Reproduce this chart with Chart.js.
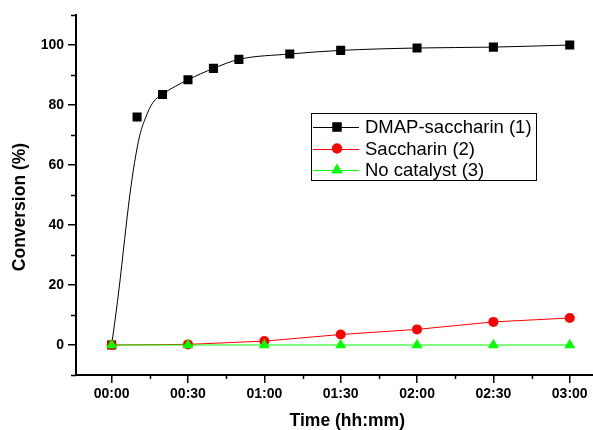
<!DOCTYPE html>
<html lang="en">
<head>
    <meta charset="UTF-8">
    <title>Conversion vs time</title>
    <script src="https://cdn.jsdelivr.net/npm/chart.js@4.4.1/dist/chart.umd.min.js"></script>
    <style>
        body { margin: 0; overflow: hidden; background: #fff; }
        #wrap { width: 625px; height: 430px; }
    </style>
</head>
<body>
    <div id="wrap"><canvas id="myChart" width="625" height="430"></canvas></div>

<script>
    // time in minutes
    const dmapTimes = [0, 10, 20, 30, 40, 50, 70, 90, 120, 150, 180]
    const dmapValues = [0, 76, 83.5, 88.4, 92.2, 95.2, 97, 98.2, 99, 99.3, 100]

    // fitted curve drawn through the DMAP points
    const fitTimes = [0, 0.5, 2.9, 5.1, 7.1, 9, 11, 13.6, 16.2, 20, 30, 40, 50, 70, 90, 120, 150, 180]
    const fitValues = [0, 3, 18.6, 35.2, 49.7, 60.8, 69.7, 76.3, 80.8, 83.6, 88.4, 92.2, 95.2, 97, 98.2, 99, 99.3, 100]

    const sacchTimes = [0, 30, 60, 90, 120, 150, 180]
    const sacchValues = [0, 0.2, 1.3, 3.5, 5.2, 7.7, 9.0]

    const noCatTimes = [0, 30, 60, 90, 120, 150, 180]
    const noCatValues = [0, 0, 0, 0, 0, 0, 0]

    const xTicks = [0, 30, 60, 90, 120, 150, 180]
    const xTickLabels = ['00:00', '00:30', '01:00', '01:30', '02:00', '02:30', '03:00']
    const xMinor = [15, 45, 75, 105, 135, 165, 195]
    const yTicks = [0, 20, 40, 60, 80, 100]
    const yMinor = [-10, 10, 30, 50, 70, 90, 110]

    const legendLabels = ['DMAP-saccharin (1)', 'Saccharin (2)', 'No catalyst (3)']

    function pairs(xs, ys) {
        return xs.map((x, i) => ({x: x, y: ys[i]}))
    }

    const tickFont = {family: '"Liberation Sans", Arial, sans-serif', size: 14, weight: 'bold'}

    // minor ticks, y axis title and the boxed legend
    const extras = {
        id: 'extras',
        afterDraw(chart) {
            const ctx = chart.ctx
            const xs = chart.scales.x
            const ys = chart.scales.y
            ctx.save()
            ctx.strokeStyle = '#000'
            ctx.lineWidth = 1.5
            ctx.beginPath()
            xMinor.forEach(v => {
                const px = Math.round(xs.getPixelForValue(v)) + 0.5
                ctx.moveTo(px, xs.top)
                ctx.lineTo(px, xs.top + 4)
            })
            yMinor.forEach(v => {
                const py = Math.round(ys.getPixelForValue(v)) + 0.5
                ctx.moveTo(ys.right, py)
                ctx.lineTo(ys.right - 5, py)
            })
            ctx.stroke()

            // y title
            ctx.fillStyle = '#000'
            ctx.font = 'bold 17.5px "Liberation Sans", Arial, sans-serif'
            ctx.textAlign = 'center'
            ctx.textBaseline = 'middle'
            ctx.translate(20, (ys.top + ys.bottom) / 2 + 12)
            ctx.rotate(-Math.PI / 2)
            ctx.fillText('Conversion (%)', 0, 0)
            ctx.restore()

            // legend box
            ctx.save()
            const bx = 311.5, by = 113.5, bw = 225, bh = 67
            ctx.fillStyle = '#fff'
            ctx.fillRect(bx, by, bw, bh)
            ctx.strokeStyle = '#000'
            ctx.lineWidth = 1
            ctx.strokeRect(bx, by, bw, bh)
            const rows = [1, 2, 3]
            ctx.font = '18.5px "Liberation Sans", Arial, sans-serif'
            ctx.textBaseline = 'middle'
            rows.forEach((di, i) => {
                const ds = chart.data.datasets[di]
                const cy = 127 + i * 21.5
                ctx.strokeStyle = ds.borderColor
                ctx.lineWidth = 1
                ctx.beginPath()
                ctx.moveTo(313, Math.round(cy) + 0.5)
                ctx.lineTo(359, Math.round(cy) + 0.5)
                ctx.stroke()
                ctx.fillStyle = ds.pointBackgroundColor
                ctx.strokeStyle = ds.pointBorderColor
                Chart.helpers.drawPoint(ctx, {pointStyle: ds.pointStyle, radius: ds.pointRadius, borderWidth: 0}, 337, cy)
                ctx.fill()
                ctx.fillStyle = '#000'
                ctx.fillText(legendLabels[i], 365, cy + 1)
            })
            ctx.restore()
        }
    }

    const myChart = new Chart('myChart', {
        type: 'line',
        data: {
            datasets: [
                {
                    // fitted curve
                    data: pairs(fitTimes, fitValues),
                    borderColor: '#000',
                    borderWidth: 1,
                    pointRadius: 0,
                    cubicInterpolationMode: 'monotone',
                    fill: false,
                    order: 4
                },
                {
                    data: pairs(dmapTimes, dmapValues),
                    showLine: false,
                    borderColor: '#000',
                    pointStyle: 'rect',
                    pointRadius: 6.4,
                    pointBackgroundColor: '#000',
                    pointBorderColor: '#000',
                    pointBorderWidth: 0,
                    order: 3
                },
                {
                    data: pairs(sacchTimes, sacchValues),
                    borderColor: '#ff0000',
                    borderWidth: 1,
                    pointStyle: 'circle',
                    pointRadius: 5,
                    pointBackgroundColor: '#ff0000',
                    pointBorderColor: '#ff0000',
                    pointBorderWidth: 0,
                    tension: 0,
                    order: 2
                },
                {
                    data: pairs(noCatTimes, noCatValues),
                    borderColor: '#00ff00',
                    borderWidth: 1,
                    pointStyle: 'triangle',
                    pointRadius: 6.3,
                    pointBackgroundColor: '#00ff00',
                    pointBorderColor: '#00ff00',
                    pointBorderWidth: 0,
                    tension: 0,
                    order: 1
                }
            ]
        },
        options: {
            responsive: false,
            animation: false,
            layout: {padding: {top: 15, right: 0, bottom: 0, left: 0}},
            plugins: {
                legend: {display: false},
                tooltip: {enabled: false}
            },
            scales: {
                x: {
                    type: 'linear',
                    min: -14,
                    max: 199.2,
                    afterBuildTicks: axis => { axis.ticks = xTicks.map(v => ({value: v})) },
                    afterFit: axis => { axis.height = 55 },
                    ticks: {
                        color: '#000',
                        font: tickFont,
                        padding: 3,
                        maxRotation: 0,
                        callback: v => xTickLabels[xTicks.indexOf(v)]
                    },
                    grid: {drawOnChartArea: false, tickLength: 8, tickColor: '#000', lineWidth: 1.5},
                    border: {display: true, color: '#000', width: 2},
                    title: {
                        display: true,
                        text: 'Time (hh:mm)',
                        color: '#000',
                        font: {family: '"Liberation Sans", Arial, sans-serif', size: 17.5, weight: 'bold', lineHeight: 1},
                        padding: {top: 0, bottom: 0}
                    }
                },
                y: {
                    min: -10,
                    max: 110,
                    afterBuildTicks: axis => { axis.ticks = yTicks.map(v => ({value: v})) },
                    afterFit: axis => { axis.width = 76 },
                    ticks: {
                        color: '#000',
                        font: tickFont,
                        padding: 4
                    },
                    grid: {drawOnChartArea: false, tickLength: 8, tickColor: '#000', lineWidth: 1.5},
                    border: {display: true, color: '#000', width: 2}
                }
            }
        },
        plugins: [extras]
    });
</script>
</body>
</html>
